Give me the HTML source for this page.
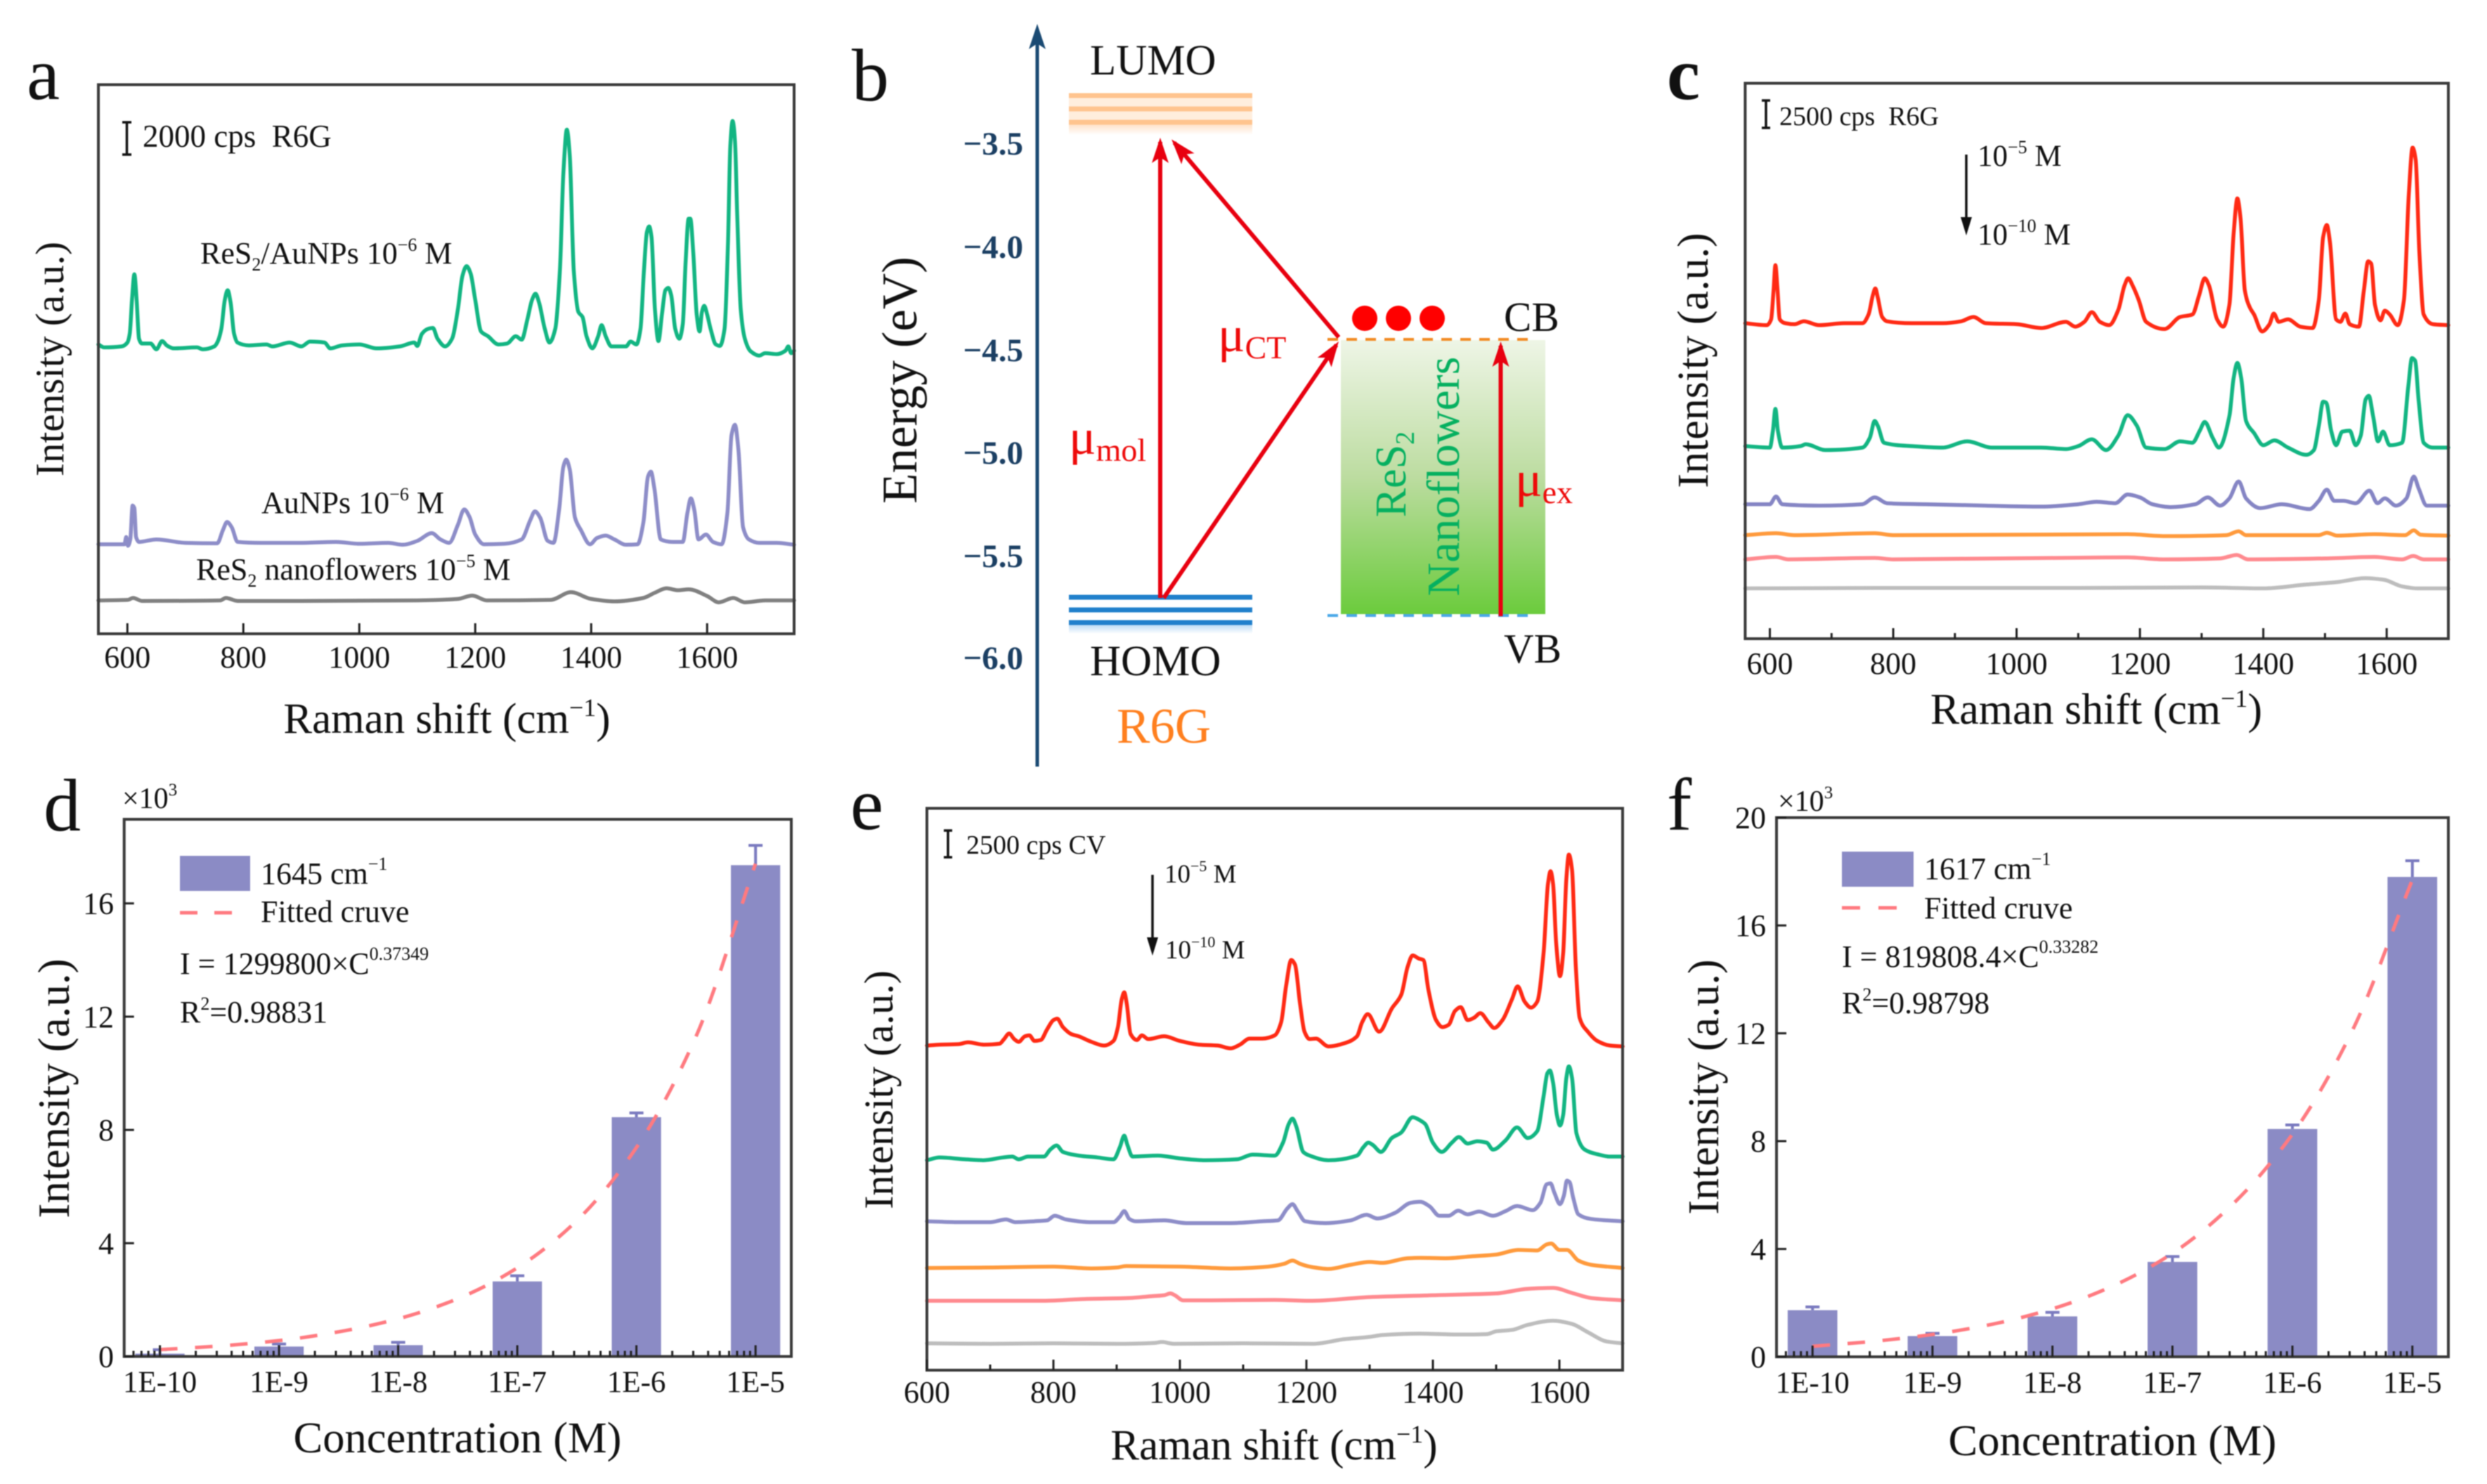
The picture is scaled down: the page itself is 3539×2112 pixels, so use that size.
<!DOCTYPE html>
<html lang="en">
<head>
<meta charset="utf-8">
<title>Raman spectra of R6G and CV on ReS2 nanoflowers</title>
<style>
html,body{margin:0;padding:0;background:#fff;}
svg{display:block;filter:blur(0.9px);}
text{font-family:"Liberation Serif","DejaVu Serif",serif;fill:#111;white-space:pre;}
.title{font-size:61px;}
.note{font-size:44px;}
.small{font-size:38px;}
.letter{font-size:106px;}
</style>
</head>
<body>
<svg id="fig" xmlns="http://www.w3.org/2000/svg" width="3539" height="2112" viewBox="0 0 3539 2112">
<defs>
<marker id="redHead" markerUnits="userSpaceOnUse" markerWidth="40" markerHeight="28" refX="30" refY="14" orient="auto" viewBox="0 0 40 28"><path d="M0,2 L36,14 L0,26 L8,14 Z" fill="#e8000f"/></marker>
<marker id="blackHead" markerUnits="userSpaceOnUse" markerWidth="30" markerHeight="20" refX="16" refY="10" orient="auto" viewBox="0 0 30 20"><path d="M0,2 L26,10 L0,18 Z" fill="#111"/></marker>
<linearGradient id="bandFill" x1="0" y1="0" x2="0" y2="1"><stop offset="0" stop-color="#eef5e6"/><stop offset="0.5" stop-color="#bcdca0"/><stop offset="1" stop-color="#6bcb3c"/></linearGradient>
<linearGradient id="lumoGlow" x1="0" y1="0" x2="0" y2="1"><stop offset="0" stop-color="#ffdcbc"/><stop offset="1" stop-color="#ffffff"/></linearGradient>
<linearGradient id="homoGlow" x1="0" y1="0" x2="0" y2="1"><stop offset="0" stop-color="#a9d1f2"/><stop offset="1" stop-color="#ffffff"/></linearGradient>
</defs>

<!-- panel letters -->
<text class="letter" x="38" y="141">a</text>
<text class="letter" x="1212" y="143">b</text>
<text class="letter" x="2372" y="141" font-weight="bold">c</text>
<text class="letter" x="62" y="1182">d</text>
<text class="letter" x="1210" y="1180">e</text>
<text class="letter" x="2372" y="1181">f</text>

<g id="panelA"></g>
<g id="panelC"></g>
<g id="panelE"></g>
<g id="panelD"></g>
<g id="panelF"></g>

<!-- panel a annotation -->
<g>
<path d="M174,174H187M180.5,174V220M174,220H187" stroke="#111" stroke-width="3.5" fill="none"/>
<text class="note" x="203" y="209" style="font-size:45px">2000 cps  R6G</text>
<text class="note" x="285" y="375">ReS<tspan dy="10" font-size="26">2</tspan><tspan dy="-10">/AuNPs 10</tspan><tspan dy="-18" font-size="26">−6</tspan><tspan dy="18"> M</tspan></text>
<text class="note" x="372" y="730">AuNPs 10<tspan dy="-18" font-size="26">−6</tspan><tspan dy="18"> M</tspan></text>
<text class="note" x="279" y="825">ReS<tspan dy="10" font-size="26">2</tspan><tspan dy="-10"> nanoflowers 10</tspan><tspan dy="-18" font-size="26">−5</tspan><tspan dy="18"> M</tspan></text>
<text class="title" x="636" y="1043" text-anchor="middle">Raman shift (cm<tspan dy="-24" font-size="36">−1</tspan><tspan dy="24">)</tspan></text>
<text class="title" transform="translate(90,511) rotate(-90)" text-anchor="middle" style="font-size:57px">Intensity (a.u.)</text>
</g>

<!-- panel b energy diagram -->
<g>
<line x1="1476" y1="1091" x2="1476" y2="50" stroke="#1a4a73" stroke-width="5"/>
<path d="M1476,34 L1488,70 L1476,62 L1464,70 Z" fill="#1a4a73"/>
<g font-weight="bold" style="font-size:47px" text-anchor="end">
<text x="1456" y="220" style="fill:#1b3f63">−3.5</text>
<text x="1456" y="367" style="fill:#1b3f63">−4.0</text>
<text x="1456" y="514" style="fill:#1b3f63">−4.5</text>
<text x="1456" y="660" style="fill:#1b3f63">−5.0</text>
<text x="1456" y="807" style="fill:#1b3f63">−5.5</text>
<text x="1456" y="952" style="fill:#1b3f63">−6.0</text>
</g>
<text transform="translate(1304,541) rotate(-90)" text-anchor="middle" style="font-size:71px">Energy (eV)</text>
<text x="1551" y="106" style="font-size:61px">LUMO</text>
<rect x="1521" y="136" width="261" height="38" fill="#ffeedd"/>
<rect x="1521" y="174" width="261" height="18" fill="url(#lumoGlow)"/>
<g stroke="#ffc48e" stroke-width="7">
<line x1="1521" x2="1782" y1="136" y2="136"/>
<line x1="1521" x2="1782" y1="155" y2="155"/>
<line x1="1521" x2="1782" y1="174" y2="174"/>
</g>
<rect x="1521" y="886" width="261" height="16" fill="url(#homoGlow)"/>
<g stroke="#2080cc" stroke-width="7">
<line x1="1521" x2="1782" y1="850" y2="850"/>
<line x1="1521" x2="1782" y1="868" y2="868"/>
<line x1="1521" x2="1782" y1="886" y2="886"/>
</g>
<text x="1551" y="961" style="font-size:61px">HOMO</text>
<text x="1589" y="1057" style="font-size:71px;fill:#ff7f1e">R6G</text>
<rect x="1908" y="484" width="291" height="390" fill="url(#bandFill)"/>
<line x1="1889" x2="2175" y1="483" y2="483" stroke="#f28a22" stroke-width="4" stroke-dasharray="15 12"/>
<line x1="1889" x2="2175" y1="876" y2="876" stroke="#4aa8e8" stroke-width="4" stroke-dasharray="15 12"/>
<circle cx="1942" cy="453" r="18" fill="#ff0000"/>
<circle cx="1990" cy="453" r="18" fill="#ff0000"/>
<circle cx="2038" cy="453" r="18" fill="#ff0000"/>
<g stroke="#e8000f" stroke-width="6" fill="none">
<line x1="1651" y1="851" x2="1651" y2="202" marker-end="url(#redHead)"/>
<line x1="1656" y1="851" x2="1901.6" y2="491" marker-end="url(#redHead)"/>
<line x1="1905" y1="480" x2="1671" y2="203" marker-end="url(#redHead)"/>
<line x1="2135.5" y1="877" x2="2135.5" y2="492" marker-end="url(#redHead)"/>
</g>
<text x="1521" y="646" style="font-size:72px;fill:#ee0a0a">μ<tspan dy="10" font-size="46" style="fill:#ee0a0a">mol</tspan></text>
<text x="1733" y="500" style="font-size:72px;fill:#ee0a0a">μ<tspan dy="10" font-size="46" style="fill:#ee0a0a">CT</tspan></text>
<text x="2156" y="706" style="font-size:72px;fill:#ee0a0a">μ<tspan dy="10" font-size="46" style="fill:#ee0a0a">ex</tspan></text>
<text transform="translate(2000,675) rotate(-90)" text-anchor="middle" style="font-size:62px;fill:#05b060">ReS<tspan dy="12" font-size="38" style="fill:#05b060">2</tspan></text>
<text transform="translate(2076,678) rotate(-90)" text-anchor="middle" style="font-size:66px;fill:#05b060">Nanoflowers</text>
<text x="2140" y="471" style="font-size:59px">CB</text>
<text x="2140" y="943" style="font-size:59px">VB</text>
</g>

<!-- panel c annotation -->
<g>
<path d="M2507,143H2519M2513,143V182M2507,182H2519" stroke="#111" stroke-width="3.5" fill="none"/>
<text class="small" x="2532" y="178">2500 cps  R6G</text>
<line x1="2798" y1="220" x2="2798" y2="325" stroke="#111" stroke-width="3.5" marker-end="url(#blackHead)"/>
<text style="font-size:43px" x="2814" y="236">10<tspan dy="-18" font-size="26">−5</tspan><tspan dy="18"> M</tspan></text>
<text style="font-size:43px" x="2814" y="348">10<tspan dy="-18" font-size="26">−10</tspan><tspan dy="18"> M</tspan></text>
<text class="title" x="2983" y="1030" text-anchor="middle" style="font-size:62px">Raman shift (cm<tspan dy="-24" font-size="36">−1</tspan><tspan dy="24">)</tspan></text>
<text class="title" transform="translate(2430,513) rotate(-90)" text-anchor="middle" style="font-size:62px">Intensity (a.u.)</text>
</g>

<!-- panel d annotation -->
<g>
<text x="174" y="1150" style="font-size:42px">×10<tspan dy="-18" font-size="25">3</tspan></text>
<rect x="256" y="1218" width="100" height="50" fill="#8b8bc5"/>
<text class="note" x="371" y="1258">1645 cm<tspan dy="-20" font-size="26">−1</tspan></text>
<line x1="256" x2="330" y1="1299" y2="1299" stroke="#ff7a80" stroke-width="5" stroke-dasharray="25 24"/>
<text class="note" x="371" y="1312">Fitted cruve</text>
<text class="note" x="256" y="1386">I = 1299800×C<tspan dy="-20" font-size="26">0.37349</tspan></text>
<text class="note" x="256" y="1455">R<tspan dy="-18" font-size="26">2</tspan><tspan dy="18">=0.98831</tspan></text>
<text class="title" x="651" y="2067" text-anchor="middle" style="font-size:62.5px">Concentration (M)</text>
<text class="title" transform="translate(98,1549) rotate(-90)" text-anchor="middle" style="font-size:63px">Intensity (a.u.)</text>
</g>

<!-- panel e annotation -->
<g>
<path d="M1343,1182H1355M1349,1182V1220M1343,1220H1355" stroke="#111" stroke-width="3.5" fill="none"/>
<text class="small" x="1375" y="1215">2500 cps CV</text>
<line x1="1640" y1="1245" x2="1640" y2="1350" stroke="#111" stroke-width="3.5" marker-end="url(#blackHead)"/>
<text style="font-size:37px" x="1657" y="1256">10<tspan dy="-16" font-size="22">−5</tspan><tspan dy="16"> M</tspan></text>
<text style="font-size:37px" x="1658" y="1364">10<tspan dy="-16" font-size="22">−10</tspan><tspan dy="16"> M</tspan></text>
<text class="title" x="1813" y="2077" text-anchor="middle">Raman shift (cm<tspan dy="-24" font-size="36">−1</tspan><tspan dy="24">)</tspan></text>
<text class="title" transform="translate(1270,1551) rotate(-90)" text-anchor="middle" style="font-size:58px">Intensity (a.u.)</text>
</g>

<!-- panel f annotation -->
<g>
<text x="2530" y="1154" style="font-size:42px">×10<tspan dy="-18" font-size="25">3</tspan></text>
<rect x="2621" y="1212" width="102" height="50" fill="#8b8bc5"/>
<text class="note" x="2738" y="1251">1617 cm<tspan dy="-20" font-size="26">−1</tspan></text>
<line x1="2621" x2="2699" y1="1292" y2="1292" stroke="#ff7a80" stroke-width="5" stroke-dasharray="26 26"/>
<text class="note" x="2738" y="1307">Fitted cruve</text>
<text class="note" x="2621" y="1376">I = 819808.4×C<tspan dy="-20" font-size="26">0.33282</tspan></text>
<text class="note" x="2621" y="1442">R<tspan dy="-18" font-size="26">2</tspan><tspan dy="18">=0.98798</tspan></text>
<text class="title" x="3006" y="2071" text-anchor="middle" style="font-size:62.5px">Concentration (M)</text>
<text class="title" transform="translate(2445,1547) rotate(-90)" text-anchor="middle" style="font-size:62px">Intensity (a.u.)</text>
</g>
</svg>

<script>
// ---------- Panel a data (Raman shift in cm-1, intensity in a.u.) ----------
const aGreenShift = [550,560,590,600,604,608,612,616,620,625,640,650,660,668,680,720,730,750,755,762,768,773,778,784,790,810,840,850,880,900,915,940,950,970,1000,1030,1070,1095,1100,1108,1118,1127,1135,1148,1160,1170,1178,1185,1192,1200,1210,1222,1240,1255,1270,1280,1290,1298,1304,1310,1320,1328,1338,1346,1352,1358,1363,1370,1378,1385,1392,1402,1412,1418,1425,1435,1460,1468,1478,1485,1491,1496,1500,1504,1510,1516,1522,1528,1533,1538,1545,1552,1558,1563,1568,1571,1576,1582,1587,1591,1595,1600,1606,1615,1622,1630,1636,1640,1644,1648,1652,1658,1665,1675,1690,1700,1720,1735,1740,1745,1750];
const aGreenValue = [598,592,594,602,620,690,743,690,610,600,600,588,605,596,590,592,588,594,602,630,690,710,685,620,602,596,598,594,602,594,604,602,590,596,598,590,594,602,595,620,630,632,610,594,610,670,740,760,745,690,625,615,598,600,615,608,650,690,703,685,630,602,630,750,950,1042,990,750,665,655,615,590,615,638,615,594,594,604,598,630,750,830,842,820,670,605,660,710,715,700,630,610,640,770,858,858,790,660,625,665,678,660,630,598,595,630,810,1010,1060,1020,860,670,610,584,575,580,578,585,594,580,585];
const aPurpleShift = [550,595,598,601,605,609,612,615,620,650,700,755,765,772,780,790,830,900,960,1000,1050,1075,1100,1125,1140,1155,1170,1181,1190,1200,1215,1250,1280,1295,1303,1312,1325,1335,1345,1352,1357,1363,1372,1382,1398,1410,1425,1440,1460,1480,1490,1498,1503,1509,1520,1540,1558,1566,1572,1578,1585,1598,1610,1625,1635,1642,1648,1654,1662,1672,1690,1720,1750];
const aPurpleValue = [185,185,200,182,195,265,260,200,190,195,188,187,215,231,220,190,188,188,190,186,188,184,192,208,195,188,225,257,242,205,185,186,195,235,253,240,192,188,260,345,360,340,240,215,185,198,203,195,184,185,230,325,335,300,195,190,190,250,280,255,195,205,190,185,250,410,432,380,220,195,188,188,184];
const aGrayShift = [550,600,610,625,760,770,790,900,1100,1170,1195,1220,1330,1365,1400,1440,1490,1510,1530,1550,1568,1600,1620,1645,1665,1700,1750];
const aGrayValue = [69,70,74,68,69,74,68,68,69,72,79,69,70,86,72,67,74,85,94,90,92,78,65,74,65,69,69];
const aTicks = [600,800,1000,1200,1400,1600];

// ---------- Panel c data ----------
const cRedShift = [560,595,602,606,609,612,616,625,640,655,680,720,750,760,767,771,775,782,790,830,880,910,930,950,1000,1040,1080,1095,1110,1122,1135,1150,1165,1175,1181,1188,1198,1210,1240,1265,1285,1296,1305,1312,1325,1335,1345,1352,1358,1363,1370,1378,1385,1398,1410,1417,1425,1440,1460,1480,1490,1497,1503,1508,1518,1525,1533,1540,1555,1563,1570,1575,1581,1590,1597,1605,1618,1628,1636,1642,1647,1653,1660,1675,1700];
const cRedValue = [652,648,660,720,772,730,660,652,650,656,648,652,652,670,710,724,705,665,656,652,652,656,665,652,650,642,655,645,655,675,655,648,680,730,745,730,700,655,640,665,670,710,745,730,660,645,690,840,910,870,720,685,670,635,650,672,655,660,645,642,700,830,855,820,660,655,672,650,645,720,780,775,690,658,678,670,648,700,920,1015,990,800,670,650,648];
const cGreenShift = [560,600,605,609,613,620,650,658,690,750,762,770,775,785,830,880,920,960,1040,1080,1100,1122,1145,1165,1180,1195,1210,1240,1265,1285,1297,1305,1318,1328,1345,1352,1358,1364,1372,1385,1400,1418,1440,1470,1482,1490,1497,1502,1510,1518,1528,1540,1550,1558,1566,1571,1578,1586,1594,1605,1625,1635,1641,1646,1652,1660,1675,1700];
const cGreenValue = [398,395,430,475,430,395,398,402,390,395,415,450,440,405,398,395,408,395,395,392,398,412,390,420,462,440,395,392,408,405,430,448,415,395,460,540,570,540,450,425,400,410,395,380,390,440,490,488,430,400,428,430,400,420,495,502,460,408,428,400,405,520,580,575,490,405,395,395];
const cPurpleShift = [560,600,610,620,680,750,770,790,850,950,1040,1100,1130,1160,1180,1200,1220,1250,1290,1310,1330,1345,1360,1372,1395,1430,1475,1490,1503,1515,1530,1550,1572,1585,1597,1615,1632,1644,1652,1665,1700];
const cPurpleValue = [278,278,294,278,275,278,292,280,278,275,273,278,283,280,298,292,278,272,278,292,275,290,325,290,270,278,268,285,308,285,285,280,306,280,290,275,290,335,310,275,275];
const cOrangeShift = [560,610,640,770,800,1180,1240,1340,1360,1372,1490,1503,1520,1580,1630,1644,1655,1700];
const cOrangeValue = [214,218,214,218,214,216,212,214,222,214,214,219,213,216,214,224,215,213];
const cPinkShift = [560,610,630,770,800,1180,1240,1330,1357,1375,1500,1580,1625,1643,1660,1700];
const cPinkValue = [164,169,164,167,164,168,164,166,173,164,166,169,164,171,164,164];
const cGrayShift = [560,800,1100,1300,1400,1470,1520,1565,1595,1625,1650,1700];
const cGrayValue = [104,105,105,106,104,112,117,125,122,108,104,104];
const cTicks = [600,800,1000,1200,1400,1600];
const cMinorTicks = [700,900,1100,1300,1500];

// ---------- Panel e data ----------
const eRedShift = [600,620,650,665,690,715,722,730,738,745,755,762,770,780,790,800,806,815,828,840,860,880,895,902,908,912,916,922,932,940,950,975,1000,1030,1060,1080,1095,1110,1130,1150,1160,1168,1176,1182,1190,1197,1205,1215,1235,1260,1280,1288,1297,1315,1335,1350,1360,1368,1378,1385,1393,1405,1415,1425,1435,1444,1455,1465,1475,1488,1497,1510,1525,1534,1545,1555,1565,1575,1582,1586,1590,1595,1601,1606,1611,1615,1620,1626,1632,1645,1660,1680,1700];
const eRedValue = [702,704,705,709,704,706,716,728,716,710,722,724,712,714,737,757,760,742,727,722,710,702,712,742,802,817,792,727,714,724,716,722,712,704,702,696,704,717,717,724,752,832,887,877,792,732,716,717,700,707,722,752,770,732,782,812,872,897,890,887,822,757,742,747,777,785,757,762,772,752,740,757,802,830,797,784,797,902,1052,1079,1052,922,852,902,1062,1115,1082,872,762,732,712,702,700];
const eGreenShift = [600,620,660,690,720,735,745,760,785,795,805,815,840,870,895,905,912,917,925,965,1000,1040,1090,1115,1150,1163,1172,1178,1184,1195,1205,1235,1280,1290,1298,1305,1318,1335,1350,1368,1380,1388,1400,1414,1430,1441,1455,1470,1485,1495,1515,1533,1550,1565,1575,1581,1585,1590,1596,1601,1606,1611,1615,1620,1627,1640,1660,1680,1700];
const eGreenValue = [454,460,456,454,460,462,456,462,462,477,486,472,464,460,456,482,507,487,462,464,458,454,456,466,464,492,532,544,527,472,464,454,464,482,492,487,472,502,514,547,540,532,492,472,492,504,490,495,492,477,497,525,502,517,592,642,648,622,552,529,552,632,657,632,512,477,467,462,462];
const ePurpleShift = [600,650,700,725,740,770,790,802,820,860,895,905,912,920,930,975,1010,1080,1130,1155,1170,1178,1186,1198,1230,1270,1295,1312,1340,1365,1380,1395,1410,1425,1440,1455,1473,1495,1515,1533,1558,1570,1580,1586,1592,1601,1607,1612,1616,1622,1630,1650,1700];
const ePurpleValue = [322,320,320,326,320,322,324,334,326,320,320,332,344,327,322,324,318,318,322,324,350,359,344,322,318,324,336,328,340,362,364,354,334,334,345,337,343,334,344,355,346,362,402,404,384,359,377,410,407,372,337,327,322];
const eOrangeShift = [600,700,800,860,900,915,1000,1080,1140,1165,1178,1190,1205,1235,1270,1300,1320,1360,1380,1420,1460,1500,1535,1565,1580,1587,1600,1612,1630,1650,1700];
const eOrangeValue = [221,222,224,220,222,225,224,220,224,230,237,230,224,219,228,234,232,242,243,242,246,250,260,259,272,274,260,260,237,228,221];
const ePinkShift = [600,700,780,850,920,955,975,985,992,1005,1050,1150,1205,1300,1400,1500,1550,1590,1620,1650,1700];
const ePinkValue = [150,150,150,154,156,160,162,166,162,151,151,152,150,158,162,166,176,178,167,156,151];
const eGrayShift = [600,700,800,900,960,972,990,1100,1210,1260,1300,1320,1380,1440,1485,1500,1525,1550,1590,1620,1645,1675,1700];
const eGrayValue = [58,57,58,57,59,61,57,58,57,67,72,76,79,77,78,84,87,98,107,100,82,62,58];
const eTicks = [600,800,1000,1200,1400,1600];
const eMinorTicks = [700,900,1100,1300,1500];

// ---------- Panel d data (intensity in units of 10^3) ----------
const concentrationLabels = ['1E-10','1E-9','1E-8','1E-7','1E-6','1E-5'];
const concentrationLog = [-10,-9,-8,-7,-6,-5];
const dBarValues = [0.1,0.35,0.4,2.65,8.45,17.35];
const dErrorTops = [0.24,0.44,0.5,2.85,8.6,18.05];
const dFitLog = [-10,-9.5,-9,-8.5,-8,-7.5,-7,-6.5,-6,-5.5,-5];
const dFitValues = [0.24,0.37,0.56,0.87,1.33,2.04,3.13,4.8,7.38,11.3,17.4];
const dYTicks = [0,4,8,12,16];

// ---------- Panel f data (intensity in units of 10^3) ----------
const fBarValues = [1.73,0.77,1.5,3.52,8.45,17.8];
const fErrorTops = [1.85,0.87,1.65,3.72,8.6,18.4];
const fFitLog = [-10,-9.5,-9,-8.5,-8,-7.5,-7,-6.5,-6,-5.5,-5];
const fFitValues = [0.39,0.57,0.83,1.21,1.78,2.62,3.84,5.65,8.26,12.1,17.7];
const fYTicks = [0,4,8,12,16,20];

// ---------- Helpers ----------
const NS = 'http://www.w3.org/2000/svg';
function mk(parent, tag, attrs) {
  const node = document.createElementNS(NS, tag);
  for (const k in attrs) node.setAttribute(k, attrs[k]);
  parent.appendChild(node);
  return node;
}
function scale(d0, d1, r0, r1) {
  return function (v) { return r0 + (v - d0) / (d1 - d0) * (r1 - r0); };
}
function monotonePath(px, py) {
  const n = px.length;
  const dx = [], m = [], t = [];
  for (let i = 0; i < n - 1; i++) {
    dx[i] = px[i + 1] - px[i];
    m[i] = (py[i + 1] - py[i]) / dx[i];
  }
  t[0] = m[0];
  t[n - 1] = m[n - 2];
  for (let i = 1; i < n - 1; i++) {
    if (m[i - 1] * m[i] <= 0) { t[i] = 0; }
    else { t[i] = 3 * (dx[i - 1] + dx[i]) / ((2 * dx[i] + dx[i - 1]) / m[i - 1] + (dx[i] + 2 * dx[i - 1]) / m[i]); }
  }
  let d = 'M' + px[0].toFixed(1) + ',' + py[0].toFixed(1);
  for (let i = 0; i < n - 1; i++) {
    const h = dx[i] / 3;
    d += 'C' + (px[i] + h).toFixed(1) + ',' + (py[i] + t[i] * h).toFixed(1) + ' ' +
         (px[i + 1] - h).toFixed(1) + ',' + (py[i + 1] - t[i + 1] * h).toFixed(1) + ' ' +
         px[i + 1].toFixed(1) + ',' + py[i + 1].toFixed(1);
  }
  return d;
}
function drawFrame(g, p) {
  const frame = mk(g, 'rect', {x: p.left, y: p.top, width: p.right - p.left, height: p.bottom - p.top, fill: 'none', stroke: '#3a3a3a', 'stroke-width': 4});
  
  
}
function drawTick(g, x1, y1, x2, y2) {
  const tick = mk(g, 'line', {x1: x1, y1: y1, x2: x2, y2: y2, stroke: '#222', 'stroke-width': 3});
  
  
}
function drawLabel(g, x, y, anchor, size, content) {
  const label = mk(g, 'text', {x: x, y: y, 'text-anchor': anchor, style: 'font-size:' + size + 'px'});
  label.textContent = content;
  
  
}
function drawSpectrum(g, p, sx, sy, shifts, values, color, name) {
  const line = mk(g, 'path', {
    d: monotonePath(shifts.map(sx), values.map(sy)),
    fill: 'none', stroke: color, 'stroke-width': 5.5, 'stroke-linejoin': 'round', 'stroke-linecap': 'round'
  });
  
  
}
function ramanPanel(id, p, series, ticks, minors, labelY) {
  const g = document.getElementById(id);
  const sx = scale(p.xMin, p.xMax, p.left, p.right);
  const sy = scale(0, p.yMax, p.bottom, p.top);
  series.forEach(function (s) { drawSpectrum(g, p, sx, sy, s[0], s[1], s[2], s[3]); });
  drawFrame(g, p);
  ticks.forEach(function (t) {
    drawTick(g, sx(t), p.bottom, sx(t), p.bottom - 15);
    drawLabel(g, sx(t), labelY, 'middle', 44, String(t));
  });
  minors.forEach(function (t) { drawTick(g, sx(t), p.bottom, sx(t), p.bottom - 8); });
}
function barPanel(id, p, barValues, errorTops, fitLog, fitValues, yTicks, labelY, labelRight) {
  const g = document.getElementById(id);
  const sx = scale(p.xMin, p.xMax, p.left, p.right);
  const sy = scale(0, p.yMax, p.bottom, p.top);
  const halfBar = 0.207;
  concentrationLog.forEach(function (c, i) {
    const err = mk(g, 'path', {
      d: 'M' + sx(c) + ',' + sy(barValues[i]) + 'V' + sy(errorTops[i]) + 'M' + (sx(c) - 10) + ',' + sy(errorTops[i]) + 'H' + (sx(c) + 10),
      fill: 'none', stroke: '#7a7abf', 'stroke-width': 4
    });
    
    
    const bar = mk(g, 'rect', {
      x: sx(c - halfBar), y: sy(barValues[i]), width: sx(c + halfBar) - sx(c - halfBar),
      height: sy(0) - sy(barValues[i]), fill: '#8b8bc5'
    });
    
    
  });
  const fit = mk(g, 'path', {
    d: monotonePath(fitLog.map(sx), fitValues.map(sy)),
    fill: 'none', stroke: '#ff7a80', 'stroke-width': 5, 'stroke-dasharray': '25 25'
  });
  
  
  drawFrame(g, p);
  yTicks.forEach(function (t) {
    drawTick(g, p.left, sy(t), p.left + 14, sy(t));
    drawLabel(g, labelRight, sy(t) + 15, 'end', 44, String(t));
  });
  concentrationLog.forEach(function (c, i) {
    drawLabel(g, sx(c), labelY, 'middle', 43, concentrationLabels[i]);
  });
  for (let dec = -11; dec <= -5; dec++) {
    for (let mult = 1; mult <= 9; mult++) {
      const pos = dec + Math.log10(mult);
      if (pos < p.xMin || pos > p.xMax) continue;
      drawTick(g, sx(pos), p.bottom, sx(pos), p.bottom - (mult === 1 ? 16 : 8));
    }
  }
}

// ---------- Draw ----------
ramanPanel('panelA', {left: 140, right: 1130, top: 120.5, bottom: 902, xMin: 550, xMax: 1750, yMax: 1135}, [
  [aGrayShift, aGrayValue, '#808080', 'spectrum-res2-nanoflowers'],
  [aPurpleShift, aPurpleValue, '#8d8dc8', 'spectrum-aunps'],
  [aGreenShift, aGreenValue, '#12b582', 'spectrum-res2-aunps']
], aTicks, [], 950);

ramanPanel('panelC', {left: 2483.4, right: 3484, top: 118.5, bottom: 909, xMin: 560, xMax: 1700, yMax: 1148}, [
  [cGrayShift, cGrayValue, '#bdbdbd', 'spectrum-c-1e-10'],
  [cPinkShift, cPinkValue, '#ff8a8f', 'spectrum-c-1e-9'],
  [cOrangeShift, cOrangeValue, '#ff9a3c', 'spectrum-c-1e-8'],
  [cPurpleShift, cPurpleValue, '#8585c4', 'spectrum-c-1e-7'],
  [cGreenShift, cGreenValue, '#12b582', 'spectrum-c-1e-6'],
  [cRedShift, cRedValue, '#ff2a14', 'spectrum-c-1e-5']
], cTicks, cMinorTicks, 959);

ramanPanel('panelE', {left: 1319, right: 2309, top: 1150.4, bottom: 1950, xMin: 600, xMax: 1700, yMax: 1215}, [
  [eGrayShift, eGrayValue, '#bdbdbd', 'spectrum-e-1e-10'],
  [ePinkShift, ePinkValue, '#ff8a8f', 'spectrum-e-1e-9'],
  [eOrangeShift, eOrangeValue, '#ff9a3c', 'spectrum-e-1e-8'],
  [ePurpleShift, ePurpleValue, '#8d8dc8', 'spectrum-e-1e-7'],
  [eGreenShift, eGreenValue, '#12b582', 'spectrum-e-1e-6'],
  [eRedShift, eRedValue, '#ff2a14', 'spectrum-e-1e-5']
], eTicks, eMinorTicks, 1996);

barPanel('panelD', {left: 176.7, right: 1126, top: 1166, bottom: 1930.5, xMin: -10.3, xMax: -4.7, yMax: 18.97},
  dBarValues, dErrorTops, dFitLog, dFitValues, dYTicks, 1981, 162);

barPanel('panelF', {left: 2528, right: 3484, top: 1163.6, bottom: 1931, xMin: -10.3, xMax: -4.7, yMax: 20},
  fBarValues, fErrorTops, fFitLog, fFitValues, fYTicks, 1982, 2513);
</script>
</body>
</html>
